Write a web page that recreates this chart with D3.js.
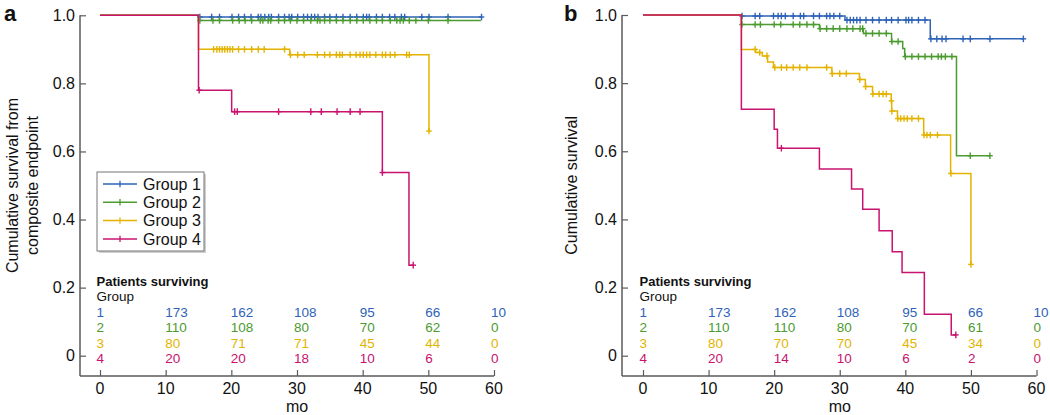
<!DOCTYPE html>
<html><head><meta charset="utf-8">
<script src="https://cdn.jsdelivr.net/npm/d3@7"></script>
<style>
html,body{margin:0;padding:0;background:#fff;}
svg{display:block;font-family:"Liberation Sans",Arial,Helvetica,sans-serif;}
</style></head>
<body><svg id="chart" width="1050" height="415"></svg>
<script>
// ---------------- DATA ----------------
const xTicks = [0, 10, 20, 30, 40, 50, 60];
const yTicks = [0, 0.2, 0.4, 0.6, 0.8, 1.0];
const yTickLabels = ["0", "0.2", "0.4", "0.6", "0.8", "1.0"];
const groupNames = ["Group 1", "Group 2", "Group 3", "Group 4"];
const groupIds = ["1", "2", "3", "4"];
const riskTimes = [10, 20, 30, 40, 50, 60];

// Panel a: [time, survival] steps, end time, censor times
const aG1Steps = [[0, 1], [15, 0.995]];
const aG1End = 58.1;
const aG1Censor = [15.2,17.0,18.2,20.1,21.1,22.0,23.0,24.1,24.5,25.1,25.7,26.1,27.2,28.1,28.8,29.2,30.1,31.0,31.6,32.2,32.7,33.2,34.2,35.0,36.0,37.0,38.1,39.1,40.1,40.6,41.0,42.1,43.0,44.1,44.9,45.9,46.4,49.0,50.1,53.0,58.1];
const aG2Steps = [[0, 1], [15, 0.985]];
const aG2End = 58.0;
const aG2Censor = [15.2,17.2,18.2,20.2,21.2,22.1,23.1,24.4,24.8,25.6,26.0,27.2,28.1,29.0,30.0,31.0,32.1,33.1,33.5,34.2,35.0,36.0,37.0,38.1,39.1,40.1,41.1,42.1,43.0,44.2,45.2,45.7,46.2,47.1,48.1,50.0,53.0];
const aG3Steps = [[0, 1], [15, 0.90], [28.9, 0.884], [50.1, 0.66]];
const aG3End = 50.1;
const aG3Censor = [17.3,17.8,18.2,18.6,19.0,19.4,19.8,20.2,21.1,22.0,23.1,24.1,25.0,28.1,29.0,30.1,31.1,33.1,34.2,35.0,36.0,36.5,36.9,38.1,39.0,39.6,40.1,40.6,41.1,42.0,43.0,43.5,44.2,44.9,46.7,47.1,50.1];
const aG4Steps = [[0, 1], [15, 0.78], [20.05, 0.717], [43.0, 0.538], [47.05, 0.266]];
const aG4End = 47.7;
const aG4Censor = [15.1,20.5,20.9,27.2,32.1,33.7,36.1,38.1,39.6,43.0,47.7];

// Panel b
const bG1Steps = [[0, 1], [15, 0.997], [30.8, 0.985], [43.8, 0.930]];
const bG1End = 58.0;
const bG1Censor = [15.1,17.1,17.8,19.9,20.6,21.1,21.7,22.9,24.0,24.5,26.0,26.9,28.0,28.5,29.1,30.0,31.1,31.6,32.1,32.6,33.1,34.0,35.0,36.0,37.1,37.9,38.9,40.1,40.5,41.0,42.0,43.0,43.9,44.8,45.6,46.2,48.8,49.9,52.9,58.0];
const bG2Steps = [[0, 1], [15, 0.972], [26.9, 0.960], [33.6, 0.946], [37.9, 0.922], [39.6, 0.902], [39.9, 0.878], [47.8, 0.587]];
const bG2End = 52.9;
const bG2Censor = [15.1,17.1,17.9,20.0,21.0,22.9,23.9,25.0,26.0,27.0,28.0,29.0,30.0,31.1,32.0,33.1,33.5,34.0,35.0,36.0,37.1,37.95,38.9,40.0,41.0,42.0,43.0,44.0,45.0,45.5,46.1,47.1,49.9,52.9];
const bG3Steps = [[0, 1], [15, 0.899], [17.2, 0.890], [18.2, 0.880], [19.0, 0.862], [19.9, 0.846], [28.8, 0.828], [33.0, 0.811], [33.9, 0.790], [35.0, 0.768], [37.85, 0.748], [37.92, 0.718], [38.8, 0.696], [42.8, 0.648], [46.9, 0.535], [50.0, 0.268]];
const bG3End = 50.0;
const bG3Censor = [17.1,17.8,18.9,20.1,21.1,21.9,22.9,23.9,25.0,28.0,28.85,30.0,31.0,33.05,33.95,35.05,36.0,36.6,37.1,37.88,37.95,38.85,39.3,39.8,40.3,41.0,42.0,42.85,43.3,43.8,44.9,46.95,50.0];
const bG4Steps = [[0, 1], [15, 0.723], [20.0, 0.665], [20.5, 0.609], [26.9, 0.548], [31.8, 0.489], [33.5, 0.430], [36.0, 0.367], [38.0, 0.305], [39.5, 0.244], [42.9, 0.122], [47.0, 0.061]];
const bG4End = 47.7;
const bG4Censor = [21.1, 47.7];

// Numbers at risk
const aRisk1 = [173, 162, 108, 95, 66, 10];
const aRisk2 = [110, 108, 80, 70, 62, 0];
const aRisk3 = [80, 71, 71, 45, 44, 0];
const aRisk4 = [20, 20, 18, 10, 6, 0];
const bRisk1 = [173, 162, 108, 95, 66, 10];
const bRisk2 = [110, 110, 80, 70, 61, 0];
const bRisk3 = [80, 70, 70, 45, 34, 0];
const bRisk4 = [20, 14, 10, 6, 2, 0];

const colors = ["#2e63b7", "#4b9b30", "#e3b300", "#c8136f"];
const axisColor = "#5a5a5a";

// ---------------- DRAW ----------------
const svg = d3.select("#chart");

function survAt(steps, t) {
  let s = steps[0][1];
  for (const [ti, si] of steps) { if (ti <= t + 1e-9) s = si; }
  return s;
}

function panel(cfg) {
  const x = d3.scaleLinear().domain([0, 60]).range([cfg.x0, cfg.x1]);
  const y = d3.scaleLinear().domain([0, 1]).range([cfg.yBottom, cfg.yTop]);
  const g = svg.append("g");

  // Y axis
  const yAx = g.append("g").attr("transform", `translate(${cfg.axX},0)`)
    .call(d3.axisRight(y).tickValues(yTicks).tickSize(6).tickFormat(""));
  yAx.select(".domain").remove();
  yAx.selectAll("line").attr("stroke", axisColor).attr("stroke-width", 1.2);
  g.append("line").attr("x1", cfg.axX).attr("x2", cfg.axX)
    .attr("y1", y(1)).attr("y2", cfg.axY)
    .attr("stroke", axisColor).attr("stroke-width", 1.5);
  g.selectAll(".ytl").data(yTicks).enter().append("text")
    .attr("x", cfg.axX - 5).attr("y", d => y(d)).attr("dy", "0.36em")
    .attr("text-anchor", "end").attr("font-size", 16).attr("fill", "#111")
    .text((d, i) => yTickLabels[i]);

  // X axis
  const xAx = g.append("g").attr("transform", `translate(0,${cfg.axY})`)
    .call(d3.axisTop(x).tickValues(xTicks).tickSize(6).tickFormat(""));
  xAx.select(".domain").remove();
  xAx.selectAll("line").attr("stroke", axisColor).attr("stroke-width", 1.2);
  g.append("line").attr("x1", cfg.axX).attr("x2", x(60))
    .attr("y1", cfg.axY).attr("y2", cfg.axY)
    .attr("stroke", axisColor).attr("stroke-width", 1.5);
  g.selectAll(".xtl").data(xTicks).enter().append("text")
    .attr("x", d => x(d)).attr("y", cfg.axY + 18)
    .attr("text-anchor", "middle").attr("font-size", 16).attr("fill", "#111")
    .text(d => d);
  g.append("text").attr("x", x(30)).attr("y", cfg.axY + 36)
    .attr("text-anchor", "middle").attr("font-size", 16).attr("fill", "#111").text("mo");

  // Y title
  cfg.yTitle.forEach((line, i) => {
    g.append("text")
      .attr("transform", `translate(${cfg.yTitleX[i]},${(y(1) + y(0)) / 2}) rotate(-90)`)
      .attr("text-anchor", "middle").attr("font-size", 16).attr("fill", "#111").text(line);
  });

  // Panel letter
  g.append("text").attr("x", cfg.letterX).attr("y", 21)
    .attr("font-size", 22).attr("font-weight", "bold").attr("fill", "#111").text(cfg.letter);

  // Curves
  const line = d3.line().x(d => x(d[0])).y(d => y(d[1])).curve(d3.curveStepAfter);
  cfg.series.forEach((s, i) => {
    const pts = s.steps.concat([[s.end, s.steps[s.steps.length - 1][1]]]);
    g.append("path").attr("d", line(pts)).attr("fill", "none")
      .attr("stroke", colors[i]).attr("stroke-width", 1.5);
    const cg = g.append("g").attr("stroke", colors[i]).attr("stroke-width", 1.4);
    s.censor.forEach(t => {
      const cx = x(t), cy = y(survAt(s.steps, t));
      cg.append("line").attr("x1", cx).attr("x2", cx).attr("y1", cy - 3.3).attr("y2", cy + 3.3);
      cg.append("line").attr("x1", cx - 2.8).attr("x2", cx + 2.8).attr("y1", cy).attr("y2", cy);
    });
  });

  // Risk table
  const tx = x(0) - 3.5;
  g.append("text").attr("x", tx).attr("y", 286).attr("font-size", 13)
    .attr("font-weight", "bold").attr("fill", "#111").text("Patients surviving");
  g.append("text").attr("x", tx).attr("y", 301).attr("font-size", 13.5)
    .attr("fill", "#111").text("Group");
  const rowY = [316.5, 332, 347.7, 363.3];
  cfg.risk.forEach((row, i) => {
    g.append("text").attr("x", tx).attr("y", rowY[i]).attr("font-size", 13.5)
      .attr("fill", colors[i]).text(groupIds[i]);
    g.selectAll(null).data(row).enter().append("text")
      .attr("x", (d, j) => x(riskTimes[j]) - (j < 2 ? 0.5 : 3))
      .attr("y", rowY[i]).attr("font-size", 13.5).attr("fill", colors[i])
      .text(d => d);
  });
  return { x, y, g };
}

panel({
  x0: 100, x1: 494, yTop: 15.3, yBottom: 355.7, axX: 80, axY: 376,
  yTitle: ["Cumulative survival from", "composite endpoint"], yTitleX: [18, 38],
  letter: "a", letterX: 4,
  series: [
    { steps: aG1Steps, end: aG1End, censor: aG1Censor },
    { steps: aG2Steps, end: aG2End, censor: aG2Censor },
    { steps: aG3Steps, end: aG3End, censor: aG3Censor },
    { steps: aG4Steps, end: aG4End, censor: aG4Censor }
  ],
  risk: [aRisk1, aRisk2, aRisk3, aRisk4]
});

panel({
  x0: 643, x1: 1036.5, yTop: 15, yBottom: 355.7, axX: 622, axY: 376,
  yTitle: ["Cumulative survival"], yTitleX: [577],
  letter: "b", letterX: 564,
  series: [
    { steps: bG1Steps, end: bG1End, censor: bG1Censor },
    { steps: bG2Steps, end: bG2End, censor: bG2Censor },
    { steps: bG3Steps, end: bG3End, censor: bG3Censor },
    { steps: bG4Steps, end: bG4End, censor: bG4Censor }
  ],
  risk: [bRisk1, bRisk2, bRisk3, bRisk4]
});

// Legend (panel a)
const lg = svg.append("g");
const lx = 97, ly = 172, lw = 107, lh = 79;
lg.append("rect").attr("x", lx + 2).attr("y", ly + 2).attr("width", lw).attr("height", lh)
  .attr("fill", "#cfcfcf");
lg.append("rect").attr("x", lx).attr("y", ly).attr("width", lw).attr("height", lh)
  .attr("fill", "#fff").attr("stroke", "#777").attr("stroke-width", 1);
groupNames.forEach((name, i) => {
  const yy = 184 + i * 18.3;
  lg.append("line").attr("x1", 103).attr("x2", 137).attr("y1", yy).attr("y2", yy)
    .attr("stroke", colors[i]).attr("stroke-width", 1.5);
  lg.append("line").attr("x1", 120).attr("x2", 120).attr("y1", yy - 3.2).attr("y2", yy + 3.2)
    .attr("stroke", colors[i]).attr("stroke-width", 1.3);
  lg.append("text").attr("x", 143).attr("y", yy).attr("dy", "0.36em")
    .attr("font-size", 16).attr("fill", "#111").text(name);
});
</script></body></html>
